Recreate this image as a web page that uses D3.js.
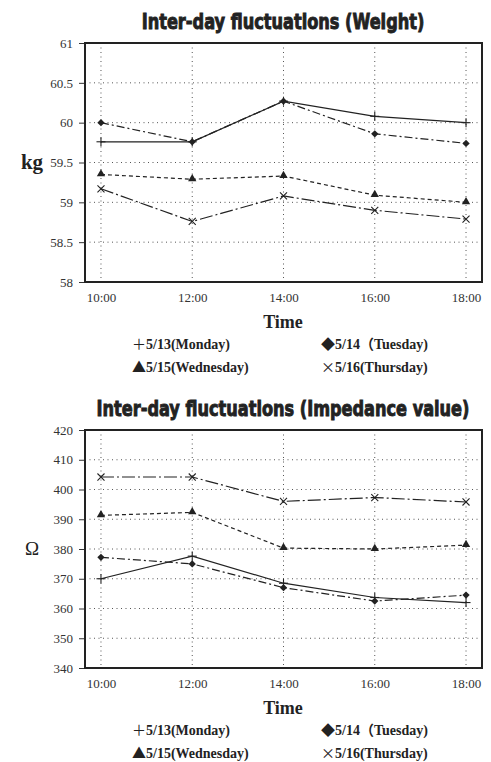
<!DOCTYPE html>
<html>
<head>
<meta charset="utf-8">
<script src="https://cdn.jsdelivr.net/npm/d3@7"></script>
<style>
  body { margin: 0; background: #fff; }
  .tick-label { font-family: "Liberation Serif", "DejaVu Serif", serif; font-size: 13px; fill: #333; }
  .title { font-family: "Liberation Sans Narrow", "DejaVu Sans Condensed", sans-serif; font-weight: bold; font-size: 22px; fill: #222; stroke: #222; stroke-width: 0.9px; }
  .axis-title { font-family: "Liberation Serif", "DejaVu Serif", serif; font-weight: bold; fill: #222; }
  .legend { font-family: "Liberation Serif", "Noto Sans CJK JP", serif; font-weight: bold; font-size: 14px; fill: #222; }
  .legend .sym { font-family: "Noto Sans CJK JP", sans-serif; font-weight: normal; font-size: 14px; }
</style>
</head>
<body>
<script>
// x categories
let hours = [10, 12, 14, 16, 18];
let timeLabels = ["10:00", "12:00", "14:00", "16:00", "18:00"];

// series names
let daySymbols = ["＋", "◆", "▲", "×"];
let dayNames = ["5/13(Monday)", "5/14（Tuesday)", "5/15(Wednesday)", "5/16(Thursday)"];

// weight (kg)
let weightMon = [59.76, 59.76, 60.27, 60.08, 60.0];
let weightTue = [60.0, 59.76, 60.27, 59.86, 59.74];
let weightWed = [59.35, 59.29, 59.33, 59.09, 59.0];
let weightThu = [59.17, 58.76, 59.08, 58.9, 58.79];
let weightTicks = [58, 58.5, 59, 59.5, 60, 60.5, 61];

// impedance (ohm)
let impMon = [370, 377.6, 368.5, 363.7, 362];
let impTue = [377.2, 375, 367, 362.5, 364.5];
let impWed = [391.3, 392.3, 380.3, 380, 381.3];
let impThu = [404.2, 404.2, 396, 397.3, 395.8];
let impTicks = [340, 350, 360, 370, 380, 390, 400, 410, 420];

let width = 491, height = 762;

let svg = d3.select("body").append("svg")
    .attr("width", width)
    .attr("height", height);

// marker + dash styles per day
let styles = [
    {dash: null, marker: "plus"},
    {dash: "8,3,2,3", marker: "diamond"},
    {dash: "4,3", marker: "triangle"},
    {dash: "13,3,2,3", marker: "cross"}
];

function drawMarker(g, type, cx, cy) {
    if (type === "plus") {
        g.append("line").attr("x1", cx - 4.5).attr("x2", cx + 4.5).attr("y1", cy).attr("y2", cy)
            .attr("stroke", "#222").attr("stroke-width", 1.1);
        g.append("line").attr("x1", cx).attr("x2", cx).attr("y1", cy - 4.5).attr("y2", cy + 4.5)
            .attr("stroke", "#222").attr("stroke-width", 1.1);
    } else if (type === "diamond") {
        g.append("path")
            .attr("transform", "translate(" + cx + "," + cy + ")")
            .attr("d", d3.symbol().type(d3.symbolDiamond2).size(34)())
            .attr("fill", "#222");
    } else if (type === "triangle") {
        g.append("path")
            .attr("transform", "translate(" + cx + "," + (cy - 0.5) + ")")
            .attr("d", d3.symbol().type(d3.symbolTriangle).size(30)())
            .attr("fill", "#222");
    } else {
        g.append("path")
            .attr("transform", "translate(" + cx + "," + cy + ")")
            .attr("d", d3.symbol().type(d3.symbolX).size(34)())
            .attr("fill", "none")
            .attr("stroke", "#222")
            .attr("stroke-width", 1.1);
    }
}

function drawChart(opt) {
    let x = d3.scaleLinear().domain([9.65, 18.35]).range([85, 482]);
    let y = d3.scaleLinear().domain(opt.domain).range([opt.bottom, opt.top]);

    let g = svg.append("g");

    // title: condensed horizontally to the reference width
    let title = g.append("text")
        .attr("class", "title")
        .attr("text-anchor", "middle")
        .text(opt.title);
    let natural = title.node().getComputedTextLength();
    title.attr("transform", "translate(" + opt.titleX + "," + (opt.top - 14) + ") scale(" +
        Math.min(1, opt.titleW / natural) + ",1)");

    // grid
    g.selectAll(".vgrid").data(hours).enter().append("line")
        .attr("x1", d => x(d)).attr("x2", d => x(d))
        .attr("y1", opt.top).attr("y2", opt.bottom)
        .attr("stroke", "#555").attr("stroke-width", 1).attr("stroke-dasharray", "1,3.5");
    g.selectAll(".hgrid").data(opt.ticks.slice(1, -1)).enter().append("line")
        .attr("x1", 85).attr("x2", 482)
        .attr("y1", d => y(d)).attr("y2", d => y(d))
        .attr("stroke", "#555").attr("stroke-width", 1).attr("stroke-dasharray", "1,3.5");

    // y axis
    let yAxis = g.append("g")
        .attr("transform", "translate(85,0)")
        .call(d3.axisLeft(y).tickValues(opt.ticks).tickSize(6).tickPadding(6).tickFormat(d3.format("")));
    yAxis.select(".domain").remove();
    yAxis.selectAll("line").attr("stroke", "#333");
    yAxis.selectAll("text").attr("class", "tick-label").attr("font-family", null).attr("font-size", null).attr("fill", null);

    // x axis labels
    let xAxis = g.append("g")
        .attr("transform", "translate(0," + opt.bottom + ")")
        .call(d3.axisBottom(x).tickValues(hours).tickSize(0).tickPadding(11)
            .tickFormat((d, i) => timeLabels[i]));
    xAxis.select(".domain").remove();
    xAxis.selectAll("text").attr("class", "tick-label").attr("font-family", null).attr("font-size", null).attr("fill", null);

    // lines
    let line = d3.line().x((d, i) => x(hours[i])).y(d => y(d));
    opt.series.forEach(function (s, k) {
        g.append("path")
            .datum(s)
            .attr("d", line)
            .attr("fill", "none")
            .attr("stroke", "#222")
            .attr("stroke-width", 1.2)
            .attr("stroke-dasharray", styles[k].dash);
    });
    opt.series.forEach(function (s, k) {
        s.forEach(function (v, i) {
            drawMarker(g, styles[k].marker, x(hours[i]), y(v));
        });
    });

    // frame
    g.append("rect")
        .attr("x", 85).attr("y", opt.top)
        .attr("width", 397).attr("height", opt.bottom - opt.top)
        .attr("fill", "none").attr("stroke", "#222").attr("stroke-width", 2);

    // axis titles
    g.append("text")
        .attr("class", "axis-title")
        .attr("x", 32).attr("y", (opt.top + opt.bottom) / 2 + 6)
        .attr("text-anchor", "middle")
        .style("font-size", opt.yLabelSize + "px")
        .style("font-weight", opt.yLabelWeight)
        .text(opt.yLabel);

    g.append("text")
        .attr("class", "axis-title")
        .attr("x", 283).attr("y", opt.bottom + 46)
        .attr("text-anchor", "middle")
        .style("font-size", "18px")
        .text("Time");

    // legend
    let lx = [132, 321];
    let ly = [opt.bottom + 67, opt.bottom + 90];
    dayNames.forEach(function (name, k) {
        let t = g.append("text")
            .attr("class", "legend")
            .attr("x", lx[k % 2])
            .attr("y", ly[Math.floor(k / 2)]);
        t.append("tspan").attr("class", "sym").text(daySymbols[k]);
        t.append("tspan").text(name);
    });
}

drawChart({
    title: "Inter-day fluctuations (Weight)",
    titleX: 283, titleW: 283,
    top: 43, bottom: 282,
    domain: [58, 61], ticks: weightTicks,
    series: [weightMon, weightTue, weightWed, weightThu],
    yLabel: "kg", yLabelSize: 21, yLabelWeight: "bold"
});

drawChart({
    title: "Inter-day fluctuations (Impedance value)",
    titleX: 283, titleW: 373,
    top: 430, bottom: 668,
    domain: [340, 420], ticks: impTicks,
    series: [impMon, impTue, impWed, impThu],
    yLabel: "Ω", yLabelSize: 19, yLabelWeight: "normal"
});
</script>
</body>
</html>
